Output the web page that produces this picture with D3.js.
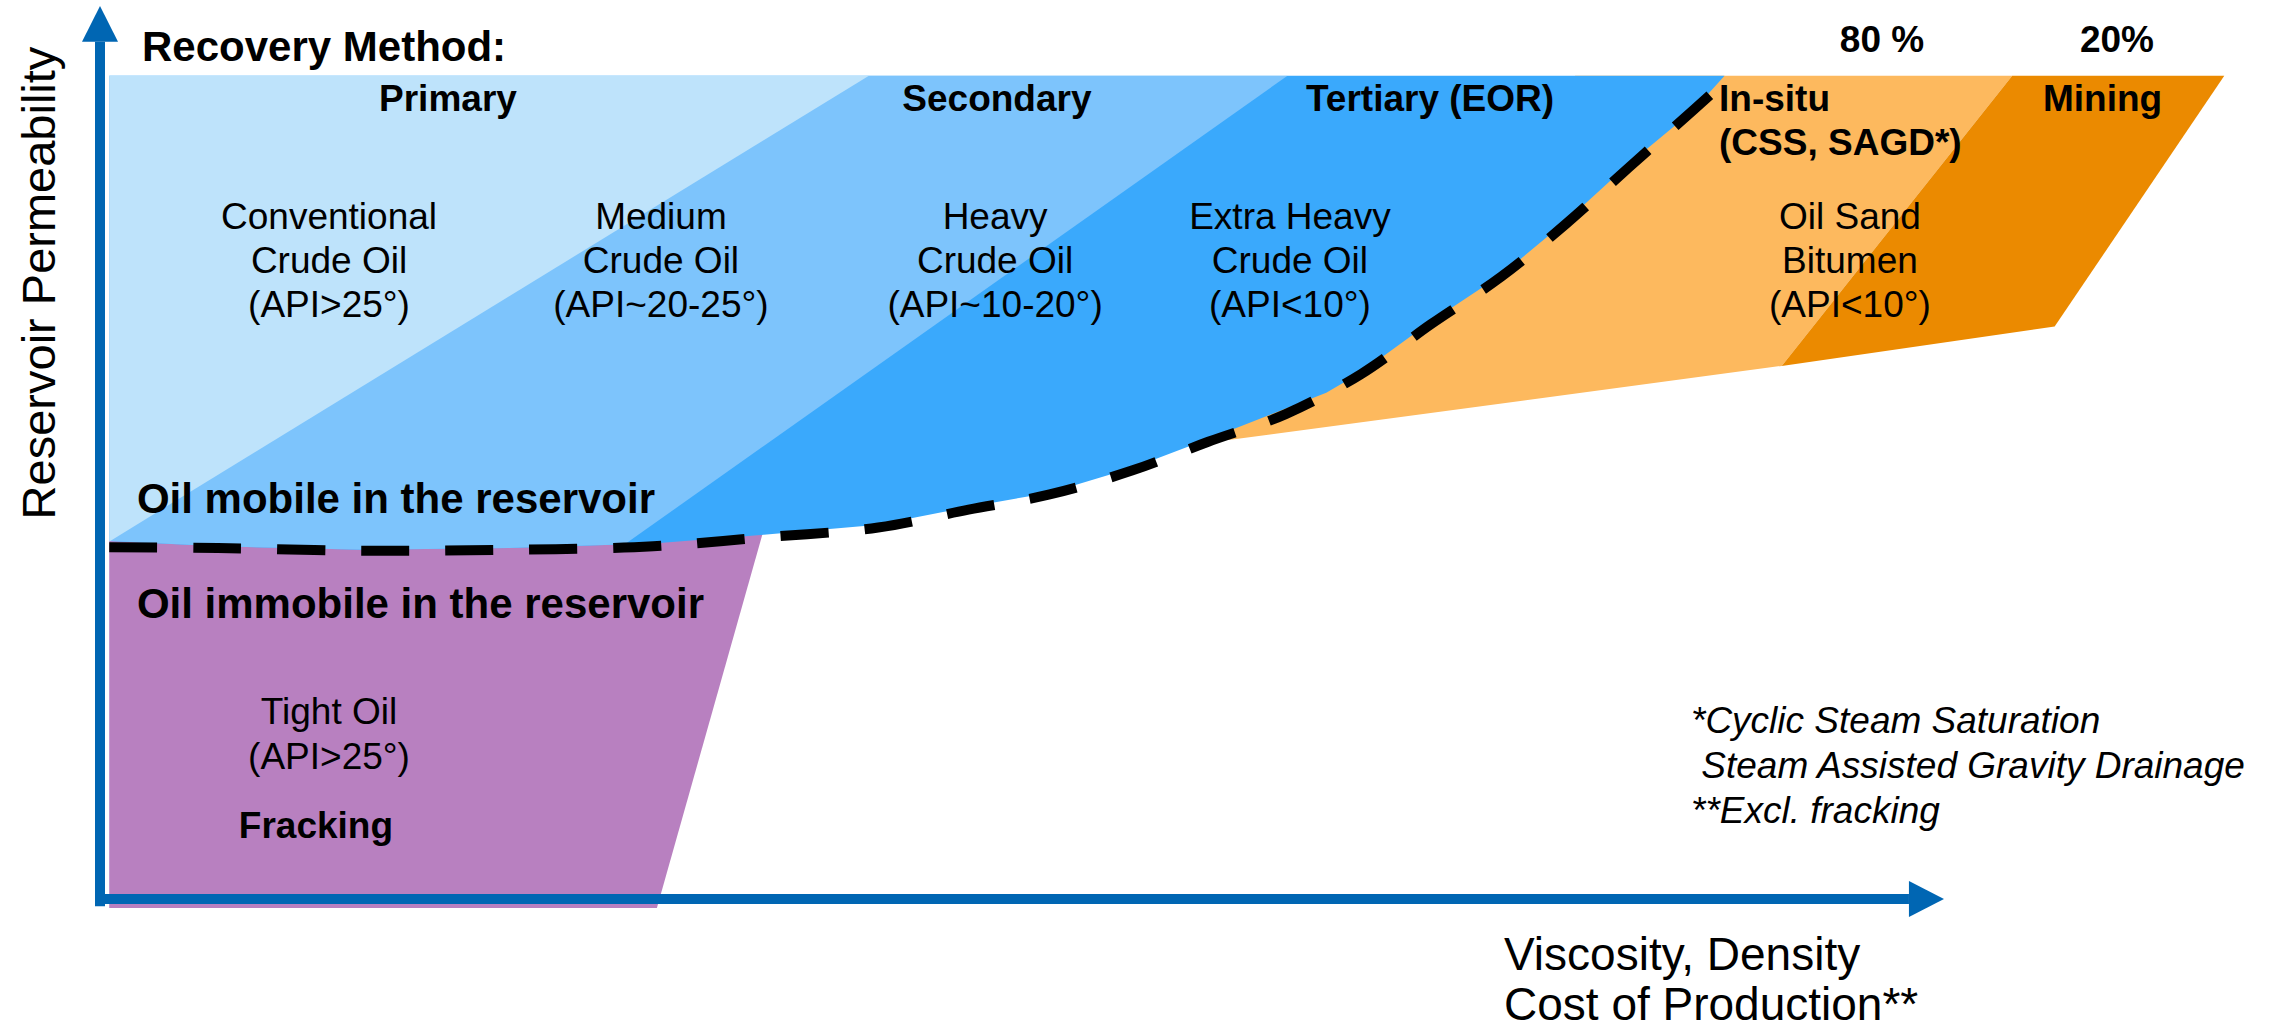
<!DOCTYPE html>
<html><head><meta charset="utf-8">
<script src="https://cdn.jsdelivr.net/npm/d3@7"></script>
<style>html,body{margin:0;padding:0;background:#fff;overflow:hidden}</style>
</head><body>
<svg id="chart" width="2279" height="1030"></svg>
<script>
// ---------- DATA (conceptual units: viscosity 0-100+, permeability 0-100) ----------
const methods = ["Primary", "Secondary", "Tertiary (EOR)", "In-situ", "(CSS, SAGD*)", "Mining"];
const shares = ["80 %", "20%"];
const oilTypes = [
  ["Conventional", "Crude Oil", "(API>25°)"],
  ["Medium", "Crude Oil", "(API~20-25°)"],
  ["Heavy", "Crude Oil", "(API~10-20°)"],
  ["Extra Heavy", "Crude Oil", "(API<10°)"],
  ["Oil Sand", "Bitumen", "(API<10°)"]
];
const tightOil = ["Tight Oil", "(API>25°)"];
const footnotes = ["*Cyclic Steam Saturation", " Steam Assisted Gravity Drainage", "**Excl. fracking"];
const xTitle = ["Viscosity, Density", "Cost of Production**"];
const yTitle = "Reservoir Permeability";

// mobility boundary (lower edge of the mobile-oil envelope)
const mobileBoundary = [[0.5,40.1],[6.4,39.5],[14.3,39.1],[22.2,39.3],[30.0,39.8],[36.0,40.8],[42.2,41.9],
  [47.1,43.9],[51.5,45.5],[56.0,48.3],[60.1,51.5],[66.5,56.7],[68.4,59.0],[72.2,64.7],[76.0,69.9],
  [79.5,75.9],[82.9,82.3],[86.4,88.3],[88.1,92.2]];
const dashBoundary = [[0.5,39.4],[6.4,39.3],[14.3,39.0],[22.2,39.1],[30.0,39.5],[36.0,40.5],[42.2,41.6],
  [47.1,43.6],[51.5,45.3],[56.0,48.0],[60.1,51.2],[64.3,54.3],[68.4,58.8],[72.2,64.4],[76.0,69.7],
  [79.5,75.6],[82.9,81.9],[86.0,87.6],[87.3,90.0]];
const envelopeTop = 92.2;
const primaryArea = [[0,envelopeTop],[41.7,envelopeTop],[0,39.4]];
const secondaryArea = [[0,envelopeTop],[64.4,envelopeTop],[21.8,30],[0,30]];
const inSituArea = [[80,envelopeTop],[103.7,envelopeTop],[91.2,59.7],[61.2,51.4],[58,51.4]];
const miningArea = [[103.7,envelopeTop],[115.2,envelopeTop],[106.0,64.1],[91.2,59.7]];
const tightArea = [[0.5,41.3],[36.0,41.4],[30.2,-1.0],[0.5,-1.0]];

// ---------- LAYOUT ----------
const x = d3.scaleLinear().domain([0,100]).range([100,1944]);
const y = d3.scaleLinear().domain([0,100]).range([899,6]);
const FONT = "'Liberation Sans', Arial, Helvetica, sans-serif";
const C = {light:"#BEE3FB", medium:"#7DC4FC", dark:"#3AA9FC", insitu:"#FDB95E", mining:"#EB8A00",
           tight:"#B880C0", axis:"#0066B3"};

const svg = d3.select("#chart");
const line = d3.line().x(d=>x(d[0])).y(d=>y(d[1]));
const poly = pts => line(pts) + "Z";

// tight oil (immobile)
svg.append("path").attr("d", poly(tightArea)).attr("fill", C.tight);
// oil sands
svg.append("path").attr("d", poly(inSituArea)).attr("fill", C.insitu);
svg.append("path").attr("d", poly(miningArea)).attr("fill", C.mining);

// mobile oil envelope
const envelopePts = [[0.5,envelopeTop],[88.1,envelopeTop], ...mobileBoundary.slice().reverse()];
svg.append("defs").append("clipPath").attr("id","env").append("path").attr("d", poly(envelopePts));
svg.append("path").attr("d", poly(envelopePts)).attr("fill", C.dark);
const g = svg.append("g").attr("clip-path","url(#env)");
g.append("path").attr("d", poly(secondaryArea)).attr("fill", C.medium);
g.append("path").attr("d", poly(primaryArea)).attr("fill", C.light);

// dashed boundary
svg.append("path").attr("d", d3.line().x(d=>x(d[0])).y(d=>y(d[1])).curve(d3.curveCatmullRom)(dashBoundary))
  .attr("fill","none").attr("stroke","#000").attr("stroke-width",10).attr("stroke-dasharray","48,36");

// axes
svg.append("line").attr("x1",x(0)).attr("x2",x(0)).attr("y1",y(-0.8)).attr("y2",y(96))
  .attr("stroke",C.axis).attr("stroke-width",10);
svg.append("path").attr("d",`M${x(0)},${y(100)}L${x(0)-18},${y(96)}L${x(0)+18},${y(96)}Z`).attr("fill",C.axis);
svg.append("line").attr("x1",x(0)-5).attr("x2",x(98.1)).attr("y1",y(0)).attr("y2",y(0))
  .attr("stroke",C.axis).attr("stroke-width",10);
svg.append("path").attr("d",`M${x(100)},${y(0)}L${x(98.1)},${y(0)-18}L${x(98.1)},${y(0)+18}Z`).attr("fill",C.axis);

// text helper
function txt(t, xv, yv, opts={}) {
  return svg.append("text").attr("x", x(xv)).attr("y", y(yv)).text(t)
    .attr("font-family", FONT).attr("font-size", opts.size||37)
    .attr("font-weight", opts.bold?"bold":"normal")
    .attr("font-style", opts.italic?"italic":"normal")
    .attr("text-anchor", opts.anchor||"middle").attr("fill","#000")
    .style("white-space","pre");
}
txt("Recovery Method:", 2.28, 93.84, {bold:true, size:42, anchor:"start"});
const methodPos = [[18.87,88.24,"middle"],[48.64,88.24,"middle"],[72.13,88.24,"middle"],[87.8,88.24,"start"],[87.8,83.31,"start"],[108.6,88.24,"middle"]];
methods.forEach((m,i)=>txt(m, methodPos[i][0], methodPos[i][1], {bold:true, anchor:methodPos[i][2]}));
const sharePos = [96.64, 109.38];
shares.forEach((s,i)=>txt(s, sharePos[i], 94.85, {bold:true}));
const typeX = [12.42, 30.42, 48.54, 64.53, 94.9];
const lineY = [75.03, 70.10, 65.17];
oilTypes.forEach((lines,i)=>lines.forEach((l,j)=>txt(l, typeX[i], lineY[j])));
txt("Oil mobile in the reservoir", 2.0, 43.2, {bold:true, size:42, anchor:"start"});
txt("Oil immobile in the reservoir", 2.0, 31.5, {bold:true, size:42, anchor:"start"});
tightOil.forEach((l,j)=>txt(l, 12.42, [19.6,14.56][j]));
txt("Fracking", 11.71, 6.83, {bold:true});
footnotes.forEach((f,j)=>txt(f, 86.28, [18.6,13.6,8.5][j], {italic:true, size:37, anchor:"start"}));
xTitle.forEach((t,j)=>txt(t, 76.14, [-7.95,-13.55][j], {size:46, anchor:"start"}));
svg.append("text").text(yTitle).attr("transform",`translate(${x(-2.44)},${y(68.98)}) rotate(-90)`)
  .attr("font-family",FONT).attr("font-size",47).attr("text-anchor","middle").attr("fill","#000");
</script>
</body></html>
